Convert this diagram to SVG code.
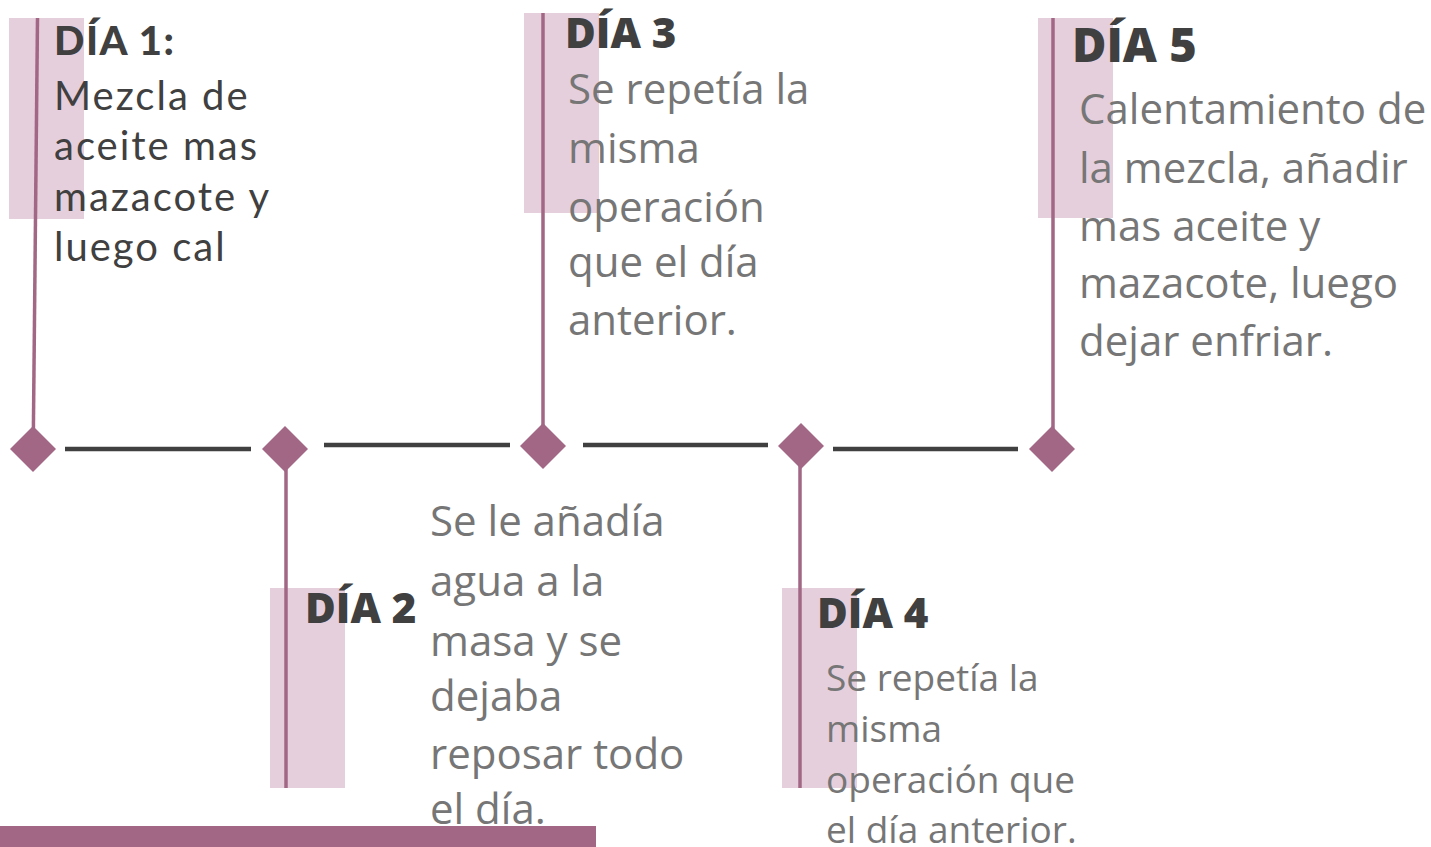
<svg xmlns="http://www.w3.org/2000/svg" width="1431" height="847" viewBox="0 0 1431 847">
<style>
.bg{fill:#ffffff}
.pink{fill:#e6cfdc}
.stem{stroke:#a16785;stroke-width:3.5;fill:none}
.dia{fill:#a16785}
.bar{stroke:#404040;stroke-width:4.5}
.t{font-family:"Open Sans","Noto Sans",sans-serif;font-weight:800;fill:#404040}
.b{font-family:"Open Sans","Noto Sans",sans-serif;fill:#767676}
.r{font-family:"Lato","Noto Sans",sans-serif;fill:#404040;letter-spacing:2px}
.rt{font-family:"Lato","Noto Sans",sans-serif;font-weight:900;fill:#404040;letter-spacing:1.5px}
</style>
<rect class="bg" x="0" y="0" width="1431" height="847"/>
<g id="connectors">
<line class="bar" x1="65" y1="449" x2="251" y2="449"/>
<line class="bar" x1="324" y1="445" x2="510" y2="445"/>
<line class="bar" x1="583" y1="445" x2="768" y2="445"/>
<line class="bar" x1="833" y1="449" x2="1018" y2="449"/>
</g>
<g id="dia1">
<rect class="pink" x="9" y="18" width="75" height="201"/>
<line class="stem" x1="37.5" y1="18" x2="33" y2="468"/>
<polygon class="dia" points="33,426 56,449 33,472 10,449"/>
<text class="rt" x="54" y="55" font-size="40">DÍA 1:</text>
<text class="r" font-size="40"><tspan x="54" y="110">Mezcla de</tspan><tspan x="54" y="160">aceite mas</tspan><tspan x="54" y="211">mazacote y</tspan><tspan x="54" y="261">luego cal</tspan></text>
</g>
<g id="dia2">
<rect class="pink" x="270" y="588" width="75" height="200"/>
<line class="stem" x1="286" y1="449" x2="286" y2="788"/>
<polygon class="dia" points="285,426 308,449 285,472 262,449"/>
<text class="t" x="305" y="623" font-size="42">DÍA 2</text>
<text class="b" font-size="42"><tspan x="430" y="536">Se le añadía</tspan><tspan x="430" y="596">agua a la</tspan><tspan x="430" y="656">masa y se</tspan><tspan x="430" y="711">dejaba</tspan><tspan x="430" y="769">reposar todo</tspan><tspan x="430" y="824">el día.</tspan></text>
</g>
<g id="dia3">
<rect class="pink" x="524" y="13" width="75" height="200"/>
<line class="stem" x1="543" y1="13" x2="543" y2="446"/>
<polygon class="dia" points="543,423 566,446 543,469 520,446"/>
<text class="t" x="565" y="48" font-size="42">DÍA 3</text>
<text class="b" font-size="42"><tspan x="568" y="104">Se repetía la</tspan><tspan x="568" y="163">misma</tspan><tspan x="568" y="222">operación</tspan><tspan x="568" y="277">que el día</tspan><tspan x="568" y="335">anterior.</tspan></text>
</g>
<g id="dia4">
<rect class="pink" x="782" y="588" width="75" height="200"/>
<line class="stem" x1="800" y1="446" x2="800" y2="788"/>
<polygon class="dia" points="801,423 824,446 801,469 778,446"/>
<text class="t" x="817" y="628" font-size="42">DÍA 4</text>
<text class="b" font-size="37"><tspan x="826" y="691">Se repetía la</tspan><tspan x="826" y="742">misma</tspan><tspan x="826" y="793">operación que</tspan><tspan x="826" y="843">el día anterior.</tspan></text>
</g>
<g id="dia5">
<rect class="pink" x="1038" y="18" width="75" height="200"/>
<line class="stem" x1="1053" y1="18" x2="1053" y2="449"/>
<polygon class="dia" points="1052,426 1075,449 1052,472 1029,449"/>
<text class="t" x="1072" y="62" font-size="47">DÍA 5</text>
<text class="b" font-size="42"><tspan x="1079" y="124">Calentamiento de</tspan><tspan x="1079" y="183">la mezcla, añadir</tspan><tspan x="1079" y="241">mas aceite y</tspan><tspan x="1079" y="298">mazacote, luego</tspan><tspan x="1079" y="356">dejar enfriar.</tspan></text>
</g>
<rect id="footer" x="0" y="826" width="596" height="21" fill="#a16785"/>
</svg>
